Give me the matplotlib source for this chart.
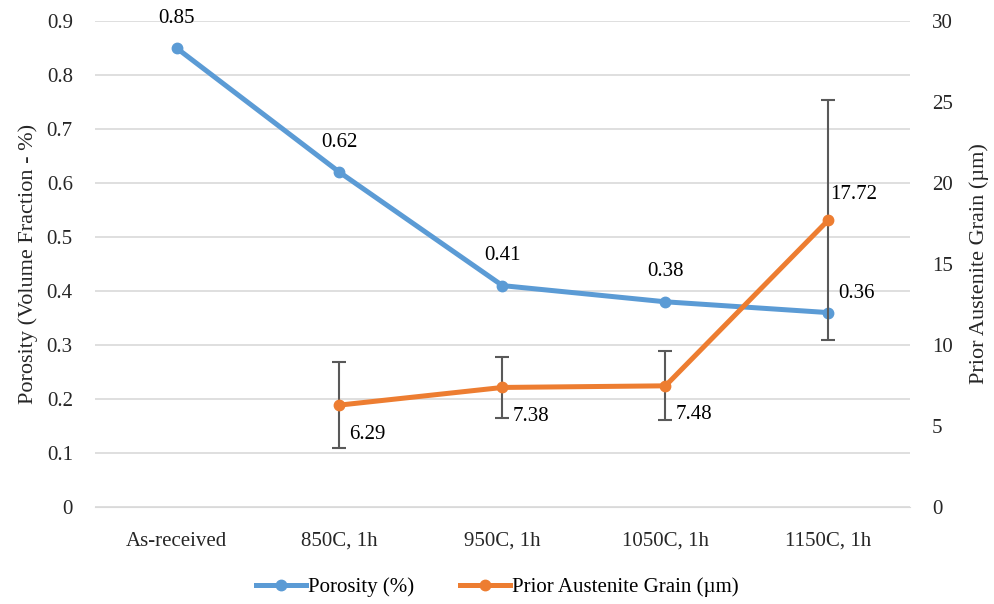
import numpy as np
import matplotlib.pyplot as plt
from matplotlib.lines import Line2D

categories = ['As-received', '850C, 1h', '950C, 1h', '1050C, 1h', '1150C, 1h']
porosity = [0.85, 0.62, 0.41, 0.38, 0.36]
grain = [np.nan, 6.29, 7.38, 7.48, 17.72]
grain_err = [0, 2.64, 1.88, 2.14, 7.43]

plt.rcParams['font.family'] = ['Liberation Serif', 'DejaVu Serif']
fs = 15

blue = '#5B9BD5'
orange = '#ED7D31'

fig = plt.figure(figsize=(9.95, 6.04), dpi=100)
ax = fig.add_axes([0.0955, 0.1606, 0.819, 0.8046])
ax2 = ax.twinx()

x = np.arange(len(categories))

ax.plot(x, porosity, color=blue, lw=3.6, marker='o', ms=7.5, zorder=3)
ax2.errorbar(x, grain, yerr=grain_err, color=orange, lw=3.6, marker='o', ms=7.5,
             ecolor='#595959', elinewidth=1.5, capsize=5, capthick=1.5, zorder=3)

ax.set_ylim(0, 0.9)
ax.set_yticks(np.arange(0, 0.91, 0.1))
ax.set_yticklabels(['0'] + ['%.1f' % v for v in np.arange(0.1, 0.91, 0.1)])
ax2.set_ylim(0, 30)
ax2.set_yticks(range(0, 31, 5))
ax.set_xlim(-0.5, len(categories) - 0.5)
ax.set_xticks(x)
ax.set_xticklabels(categories)

ax.grid(axis='y', color='#D9D9D9', lw=1.2)
ax.set_axisbelow(True)
for a in (ax, ax2):
    for s in a.spines.values():
        s.set_visible(False)
    a.tick_params(length=0, colors='#262626', labelsize=fs)
ax.spines['bottom'].set_visible(True)
ax.spines['bottom'].set_color('#D9D9D9')
ax.tick_params(axis='x', pad=18)
ax.tick_params(axis='y', pad=16)
ax2.tick_params(axis='y', pad=16)

ax.set_ylabel('Porosity (Volume Fraction - %)', fontsize=16, labelpad=6, color='#262626')
ax2.set_ylabel('Prior Austenite Grain (\u00b5m)', fontsize=16, labelpad=12, color='#262626')

# data labels
for i, v in enumerate(porosity):
    if i == len(porosity) - 1:
        ax.annotate('%.2f' % v, (i, v), xytext=(7, 14), textcoords='offset points',
                    ha='left', va='center', fontsize=fs)
    else:
        ax.annotate('%.2f' % v, (i, v), xytext=(0, 21.5), textcoords='offset points',
                    ha='center', va='center', fontsize=fs)
for i, v in enumerate(grain):
    if np.isnan(v):
        continue
    if i == len(grain) - 1:
        ax2.annotate('%.2f' % v, (i, v), xytext=(1, 18), textcoords='offset points',
                     ha='left', va='center', fontsize=fs)
    else:
        ax2.annotate('%.2f' % v, (i, v), xytext=(7, -21), textcoords='offset points',
                     ha='left', va='center', fontsize=fs)

handles = [Line2D([], [], color=blue, lw=3.6, marker='o', ms=7.5),
           Line2D([], [], color=orange, lw=3.6, marker='o', ms=7.5)]
labels = ['Porosity (%)', 'Prior Austenite Grain (\u00b5m)']
fig.legend(handles, labels, loc='center', bbox_to_anchor=(0.5, 0.028), ncol=2,
           frameon=False, fontsize=fs, handlelength=2.4, columnspacing=2.2,
           handletextpad=0.1)

fig.savefig('out.png', dpi=100)
